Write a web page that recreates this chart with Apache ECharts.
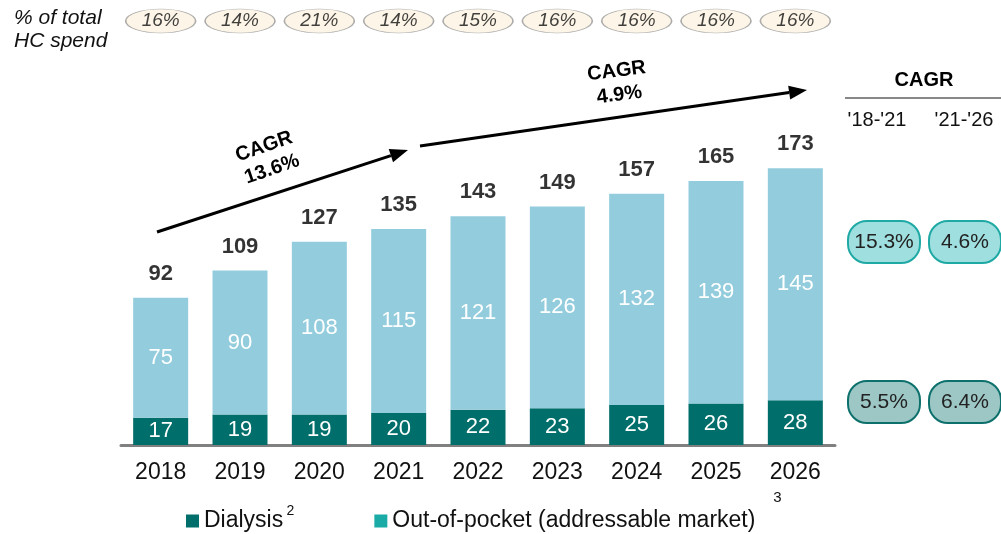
<!DOCTYPE html>
<html>
<head>
<meta charset="utf-8">
<script src="https://cdn.jsdelivr.net/npm/echarts@6/dist/echarts.min.js"></script>
<style>
  html, body { margin: 0; padding: 0; background: #fff; }
  #main { width: 1001px; height: 534px; }
</style>
</head>
<body>
<div id="main"></div>
<script>
// data
var years = ['2018', '2019', '2020', '2021', '2022', '2023', '2024', '2025', '2026'];
var dialysis = [17, 19, 19, 20, 22, 23, 25, 26, 28];
var outOfPocket = [75, 90, 108, 115, 121, 126, 132, 139, 145];
var totals = [92, 109, 127, 135, 143, 149, 157, 165, 173];
var hcShare = [16, 14, 21, 14, 15, 16, 16, 16, 16];   // % of total HC spend
var cagrPeriods = ["'18-'21", "'21-'26"];
var cagrOop = ['15.3%', '4.6%'];
var cagrDialysis = ['5.5%', '6.4%'];
var cagrArrows = ['CAGR\n13.6%', 'CAGR\n4.9%'];

var FONT = 'Arial, "Liberation Sans", sans-serif';
var DARK = '#006e6a';
var LIGHT = '#93cddd';

var myChart = echarts.init(document.getElementById('main'));

// arrow = line + triangle head
function arrow(x1, y1, x2, y2) {
    var dx = x2 - x1, dy = y2 - y1;
    var len = Math.sqrt(dx * dx + dy * dy);
    var ux = dx / len, uy = dy / len;
    var hl = 18, hw = 7;
    var bx = x2 - ux * hl, by = y2 - uy * hl;
    return [
        { type: 'line', shape: { x1: x1, y1: y1, x2: bx, y2: by },
          style: { stroke: '#000', lineWidth: 3 } },
        { type: 'polygon', shape: { points: [[x2, y2], [bx - uy * hw, by + ux * hw], [bx + uy * hw, by - ux * hw]] },
          style: { fill: '#000' } }
    ];
}

function pill(cx, cy, txt, fill, stroke) {
    return {
        type: 'rect',
        shape: { x: cx - 36, y: cy - 21, width: 72, height: 42, r: 19 },
        style: { fill: fill, stroke: stroke, lineWidth: 2 },
        textContent: { style: { text: txt, font: '21px ' + FONT, fill: '#222' } },
        textConfig: { position: 'inside' }
    };
}

var graphics = [
    { type: 'text', left: 14, top: 7,
      style: { text: '% of total\nHC spend', font: 'italic 21px ' + FONT, lineHeight: 23, fill: '#111' } },
    { type: 'text', x: 268, y: 158, rotation: 19 * Math.PI / 180,
      style: { text: cagrArrows[0], font: 'bold 20px ' + FONT, lineHeight: 24, fill: '#000', align: 'center', verticalAlign: 'middle' } },
    { type: 'text', x: 618, y: 83, rotation: 7 * Math.PI / 180,
      style: { text: cagrArrows[1], font: 'bold 20px ' + FONT, lineHeight: 24, fill: '#000', align: 'center', verticalAlign: 'middle' } },
    { type: 'text', x: 924, y: 80,
      style: { text: 'CAGR', font: 'bold 20px ' + FONT, fill: '#000', align: 'center', verticalAlign: 'middle' } },
    { type: 'line', shape: { x1: 845, y1: 98, x2: 1001, y2: 98 }, style: { stroke: '#888', lineWidth: 2 } },
    { type: 'text', x: 877, y: 120,
      style: { text: cagrPeriods[0], font: '20px ' + FONT, fill: '#111', align: 'center', verticalAlign: 'middle' } },
    { type: 'text', x: 964, y: 120,
      style: { text: cagrPeriods[1], font: '20px ' + FONT, fill: '#111', align: 'center', verticalAlign: 'middle' } },
    pill(884, 242, cagrOop[0], '#a0dfdf', '#1ea9a4'),
    pill(965, 242, cagrOop[1], '#a0dfdf', '#1ea9a4'),
    pill(884, 402, cagrDialysis[0], '#9cc7c5', '#0d706c'),
    pill(965, 402, cagrDialysis[1], '#9cc7c5', '#0d706c')
].concat(arrow(157, 232, 408, 150), arrow(420, 146, 807, 90));

var option = {
    animation: false,
    textStyle: { fontFamily: FONT },
    grid: [
        { left: 121, right: 166, top: 125, bottom: 89 },
        { left: 121, right: 166, top: 8, height: 26 }
    ],
    legend: {
        left: 181, top: 499,
        itemWidth: 13, itemHeight: 13, itemGap: 80,
        icon: 'rect',
        data: [
            { name: 'Dialysis', itemStyle: { color: DARK } },
            { name: 'Out-of-pocket (addressable market)', itemStyle: { color: '#1aaba7' } }
        ],
        formatter: function (name) {
            return name === 'Dialysis' ? '{t|Dialysis} {s|2}' : '{t|' + name + '}';
        },
        textStyle: {
            color: '#111',
            rich: {
                t: { fontSize: 23, fontFamily: FONT, color: '#111' },
                s: { fontSize: 14, fontFamily: FONT, color: '#111', padding: [0, 0, 20, 0] }
            }
        }
    },
    xAxis: [
        {
            type: 'category', data: years, gridIndex: 0,
            axisLine: { lineStyle: { color: '#808080', width: 3 } },
            axisTick: { show: false },
            axisLabel: {
                interval: 0, margin: 16, color: '#111', fontSize: 23,
                formatter: function (v) { return v === '2026' ? '{y|2026}\n{n|3}' : '{y|' + v + '}'; },
                rich: {
                    y: { fontSize: 23, color: '#111', fontFamily: FONT },
                    n: { fontSize: 15, color: '#111', fontFamily: FONT, padding: [6, 36, 0, 0] }
                }
            }
        },
        { type: 'category', data: years, gridIndex: 1, show: false }
    ],
    yAxis: [
        { type: 'value', min: 0, max: 200, show: false, gridIndex: 0 },
        { type: 'value', min: 0, max: 1, show: false, gridIndex: 1 }
    ],
    series: [
        {
            name: 'Dialysis', type: 'bar', stack: 'total', barWidth: 55,
            data: dialysis,
            itemStyle: { color: DARK },
            label: { show: true, position: 'inside', color: '#fff', fontSize: 22 }
        },
        {
            name: 'Out-of-pocket (addressable market)', type: 'bar', stack: 'total', barWidth: 55,
            data: outOfPocket,
            itemStyle: { color: LIGHT },
            label: { show: true, position: 'inside', color: '#fff', fontSize: 22 }
        },
        {
            name: 'total', type: 'scatter', data: totals, symbolSize: 0,
            label: { show: true, position: 'top', distance: 13, color: '#000', fontSize: 22, fontWeight: 'bold' }
        },
        {
            name: 'share', type: 'scatter', xAxisIndex: 1, yAxisIndex: 1,
            data: hcShare.map(function (v) { return 0.5; }),
            symbol: 'circle', symbolSize: [70, 24],
            itemStyle: { color: '#fdf3e1', borderColor: '#999', borderWidth: 1 },
            label: {
                show: true, position: 'inside', color: '#111', fontSize: 19, fontStyle: 'italic',
                formatter: function (p) { return hcShare[p.dataIndex] + '%'; }
            }
        }
    ],
    graphic: graphics
};

myChart.setOption(option);
</script>
</body>
</html>
